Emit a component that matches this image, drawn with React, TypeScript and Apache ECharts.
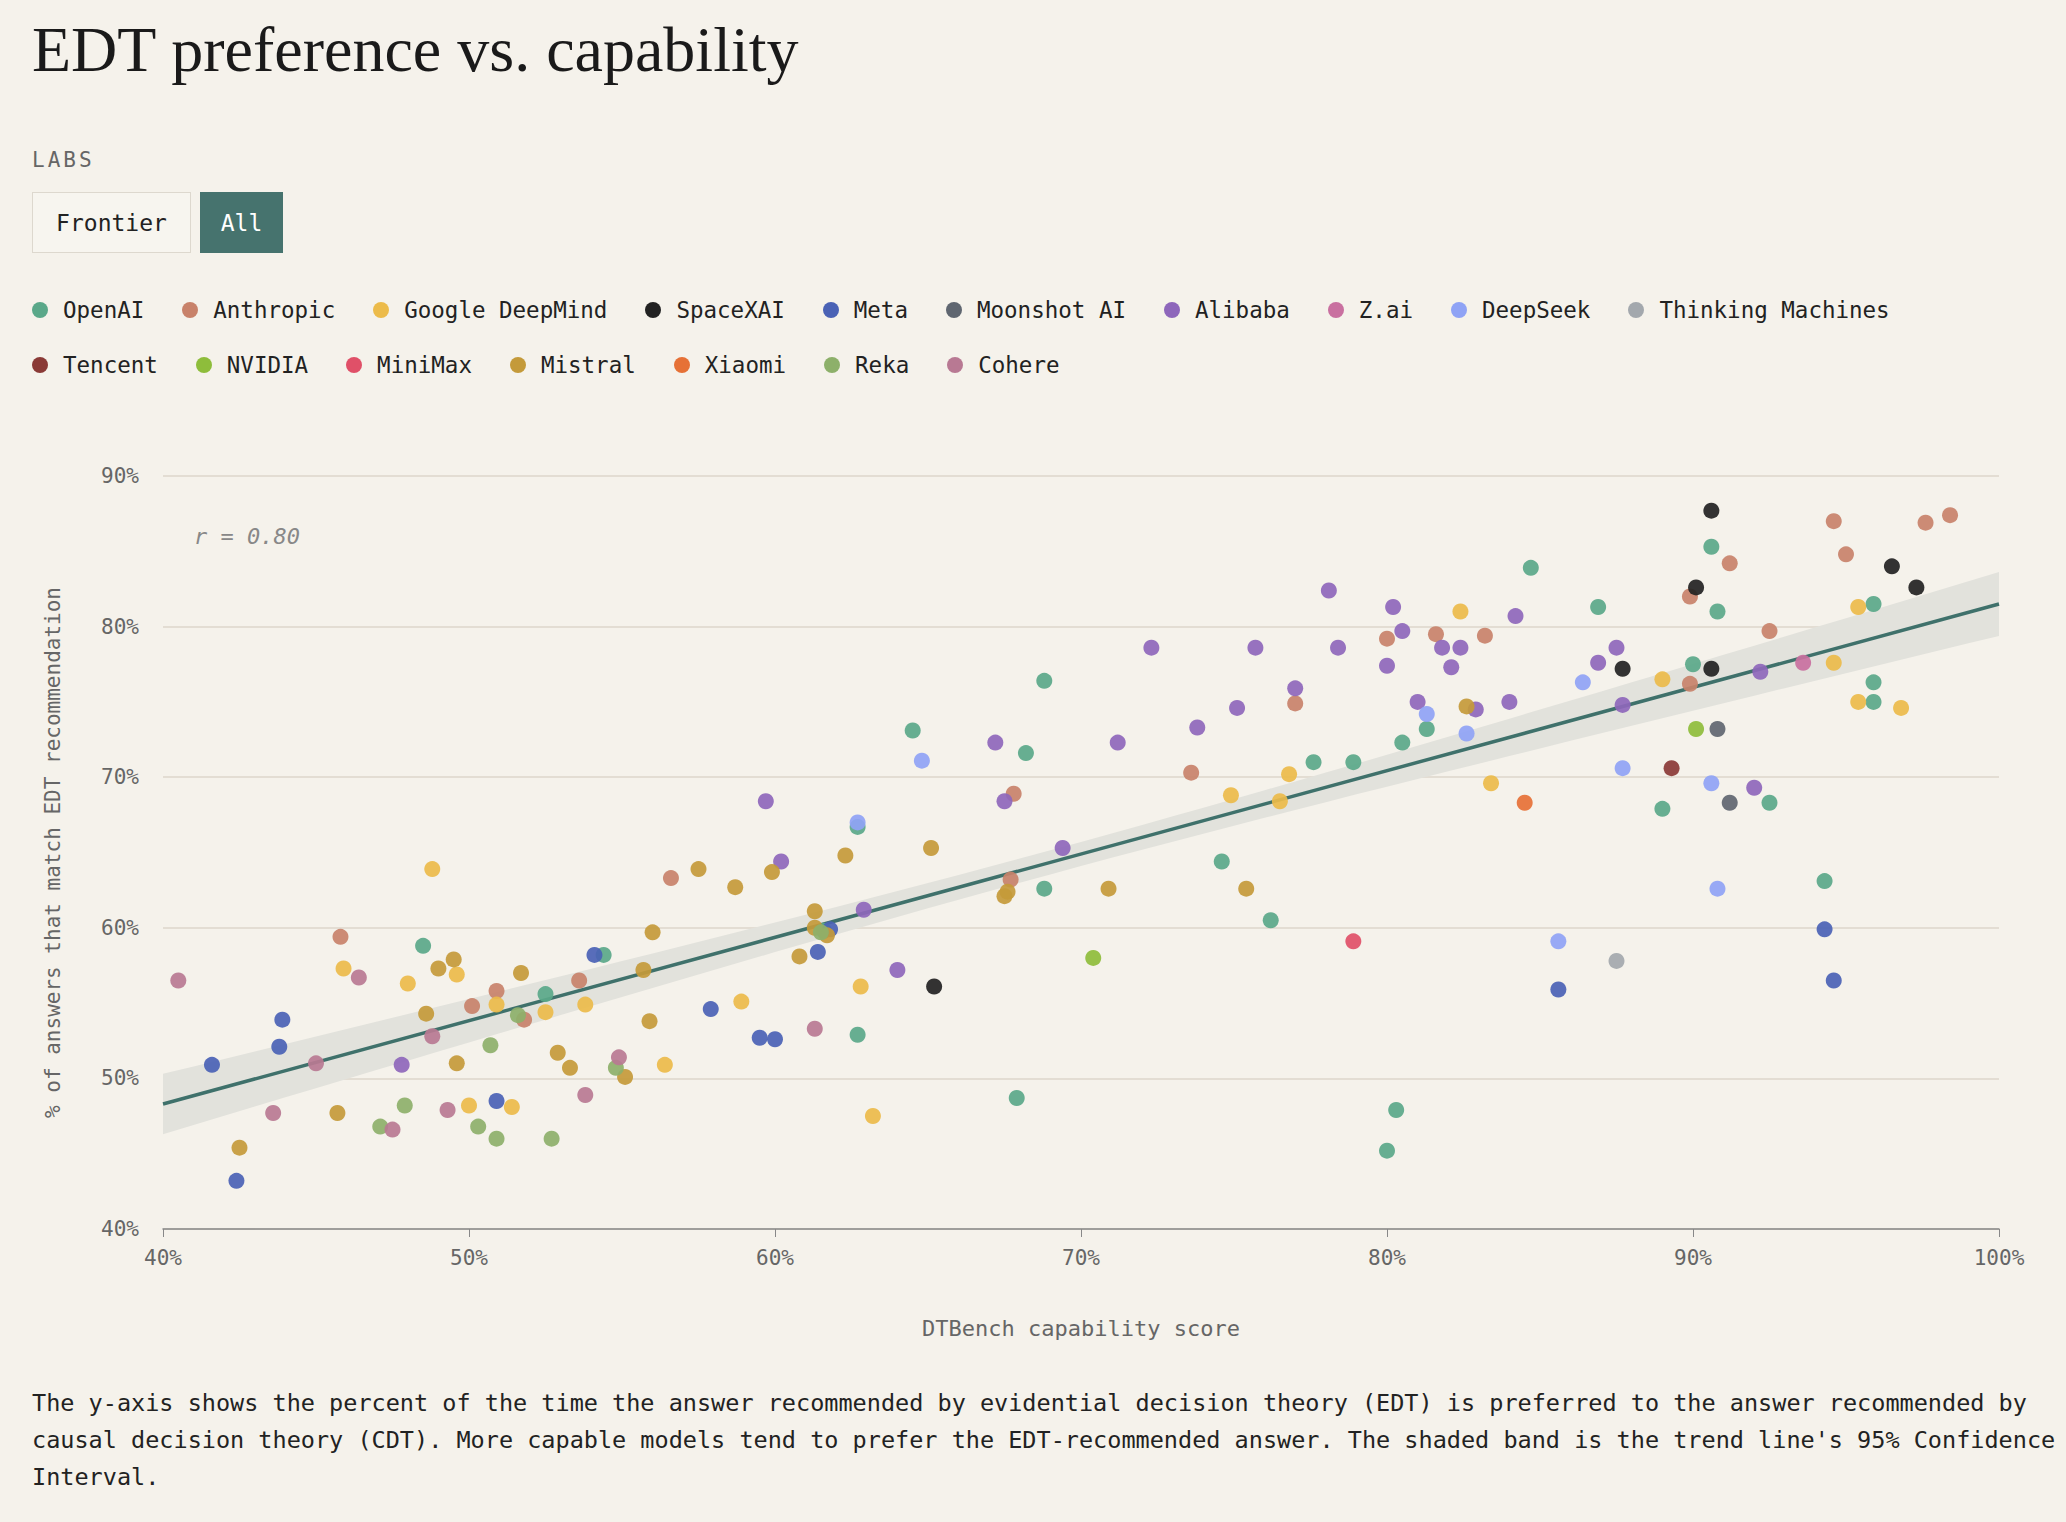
import * as echarts from 'echarts';
import { useEffect, useRef } from 'react';

// [capability %, EDT-preference %] per lab
const openai = [[48.5,58.8],[54.4,58.2],[52.5,55.6],[61.6,59.8],[62.7,66.7],[62.7,52.9],[64.5,73.1],[68.8,76.4],[68.2,71.6],[68.8,62.6],[67.9,48.7],[74.6,64.4],[76.2,60.5],[77.6,71.0],[78.9,71.0],[80.5,72.3],[81.3,73.2],[84.7,83.9],[86.9,81.3],[80.3,47.9],[80.0,45.2],[89.0,67.9],[90.0,77.5],[90.6,85.3],[90.8,81.0],[92.5,68.3],[94.3,63.1],[95.9,81.5],[95.9,76.3],[95.9,75.0]];
const anthropic = [[45.8,59.4],[50.9,55.8],[50.1,54.8],[51.8,53.9],[53.6,56.5],[56.6,63.3],[67.8,68.9],[67.7,63.2],[73.6,70.3],[77.0,74.9],[80.0,79.2],[81.6,79.5],[83.2,79.4],[89.9,82.0],[89.9,76.2],[91.2,84.2],[92.5,79.7],[94.6,87.0],[95.0,84.8],[97.6,86.9],[98.4,87.4]];
const google = [[48.8,63.9],[45.9,57.3],[48.0,56.3],[49.6,56.9],[50.9,54.9],[52.5,54.4],[53.8,54.9],[50.0,48.2],[51.4,48.1],[56.4,50.9],[58.9,55.1],[62.8,56.1],[63.2,47.5],[74.9,68.8],[76.5,68.4],[76.8,70.2],[82.4,81.0],[83.4,69.6],[89.0,76.5],[94.6,77.6],[95.4,81.3],[95.4,75.0],[96.8,74.6]];
const spacexai = [[65.2,56.1],[87.7,77.2],[90.1,82.6],[90.6,87.7],[90.6,77.2],[96.5,84.0],[97.3,82.6]];
const meta = [[41.6,50.9],[43.9,53.9],[43.8,52.1],[42.4,43.2],[50.9,48.5],[54.1,58.2],[57.9,54.6],[59.5,52.7],[60.0,52.6],[61.4,58.4],[61.8,59.9],[85.6,55.9],[94.3,59.9],[94.6,56.5]];
const moonshot = [[90.8,73.2],[91.2,68.3]];
const alibaba = [[47.8,50.9],[59.7,68.4],[60.2,64.4],[62.9,61.2],[64.0,57.2],[67.2,72.3],[67.5,68.4],[69.4,65.3],[71.2,72.3],[72.3,78.6],[73.8,73.3],[75.1,74.6],[75.7,78.6],[77.0,75.9],[78.1,82.4],[78.4,78.6],[80.0,77.4],[80.2,81.3],[80.5,79.7],[81.0,75.0],[81.8,78.6],[82.1,77.3],[82.4,78.6],[82.9,74.5],[84.0,75.0],[84.2,80.7],[86.9,77.6],[87.5,78.6],[87.7,74.8],[92.2,77.0],[92.0,69.3]];
const zai = [[93.6,77.6]];
const deepseek = [[64.8,71.1],[62.7,67.0],[81.3,74.2],[82.6,72.9],[86.4,76.3],[87.7,70.6],[90.6,69.6],[85.6,59.1],[90.8,62.6]];
const thinking = [[87.5,57.8]];
const tencent = [[89.3,70.6]];
const nvidia = [[70.4,58.0],[90.1,73.2]];
const minimax = [[78.9,59.1]];
const mistral = [[42.5,45.4],[45.7,47.7],[48.6,54.3],[49.0,57.3],[49.5,57.9],[49.6,51.0],[51.7,57.0],[52.9,51.7],[53.3,50.7],[55.1,50.1],[55.7,57.2],[55.9,53.8],[56.0,59.7],[57.5,63.9],[58.7,62.7],[59.9,63.7],[60.8,58.1],[61.3,61.1],[61.3,60.0],[61.7,59.5],[62.3,64.8],[65.1,65.3],[67.5,62.1],[67.6,62.4],[70.9,62.6],[75.4,62.6],[82.6,74.7]];
const xiaomi = [[84.5,68.3]];
const reka = [[47.1,46.8],[47.9,48.2],[50.3,46.8],[50.7,52.2],[50.9,46.0],[51.6,54.2],[52.7,46.0],[54.8,50.7],[61.5,59.7]];
const cohere = [[40.5,56.5],[43.6,47.7],[45.0,51.0],[46.4,56.7],[47.5,46.6],[48.8,52.8],[49.3,47.9],[53.8,48.9],[54.9,51.4],[61.3,53.3]];

const labs: [string, string, number[][]][] = [
  ['OpenAI', '#5aa889', openai],
  ['Anthropic', '#c8826a', anthropic],
  ['Google DeepMind', '#ecbb4a', google],
  ['SpaceXAI', '#222222', spacexai],
  ['Meta', '#4a62b5', meta],
  ['Moonshot AI', '#5f6670', moonshot],
  ['Alibaba', '#8e67bb', alibaba],
  ['Z.ai', '#c970a0', zai],
  ['DeepSeek', '#8fa3f5', deepseek],
  ['Thinking Machines', '#a3a8ad', thinking],
  ['Tencent', '#8a3a36', tencent],
  ['NVIDIA', '#8ebd3b', nvidia],
  ['MiniMax', '#e05068', minimax],
  ['Mistral', '#c49a3a', mistral],
  ['Xiaomi', '#e67136', xiaomi],
  ['Reka', '#8db06a', reka],
  ['Cohere', '#b87993', cohere],
];

// trend line endpoints and CI band shape
const trendX = [40, 100];
const trendY = [48.3, 81.5];
const ciMid = 69;
const ciMin = 0.8;
const ciSpread = 0.004;

const FONT = '"DejaVu Sans Mono", monospace';
const BG = '#f5f2eb';

export default function App() {
  const ref = useRef<HTMLDivElement>(null);

  useEffect(() => {
    document.body.style.margin = '0';
    document.body.style.background = BG;
    const chart = echarts.init(ref.current!, undefined, { renderer: 'svg' });
    const slope = (trendY[1] - trendY[0]) / (trendX[1] - trendX[0]);
    const xs: number[] = [];
    for (let x = trendX[0]; x <= trendX[1]; x += 1) xs.push(x);
    const hw = (x: number) => Math.sqrt(ciMin * ciMin + ciSpread * (x - ciMid) ** 2);
    const fit = (x: number) => trendY[0] + slope * (x - trendX[0]);
    const band = [
      ...xs.map((x) => [x, fit(x) + hw(x)]),
      ...xs.slice().reverse().map((x) => [x, fit(x) - hw(x)]),
    ];
    chart.setOption({
      animation: false,
      backgroundColor: BG,
      grid: { left: 163, right: 67, top: 56, bottom: 151 },
      xAxis: {
        type: 'value', min: 40, max: 100, interval: 10,
        name: 'DTBench capability score', nameLocation: 'middle', nameGap: 88,
        nameTextStyle: { fontFamily: FONT, fontSize: 22, color: '#666' },
        axisLabel: { formatter: '{value}%', fontFamily: FONT, fontSize: 21, color: '#666', margin: 18 },
        axisLine: { lineStyle: { color: '#888', width: 1.5 } },
        axisTick: { show: true, length: 8, lineStyle: { color: '#888' } },
        splitLine: { show: false },
      },
      yAxis: {
        type: 'value', min: 40, max: 90, interval: 10,
        name: '% of answers that match EDT recommendation', nameLocation: 'middle', nameGap: 100,
        nameTextStyle: { fontFamily: FONT, fontSize: 21, color: '#666' },
        axisLabel: { formatter: '{value}%', fontFamily: FONT, fontSize: 21, color: '#666', margin: 24 },
        axisLine: { show: false },
        axisTick: { show: false },
        splitLine: { lineStyle: { color: '#dcd6cb', width: 1.5 } },
      },
      graphic: [{
        type: 'text', left: 194, top: 105,
        style: { text: 'r = 0.80', fontFamily: FONT, fontStyle: 'italic', fontSize: 22, fill: '#888' },
      }],
      series: [
        {
          type: 'custom', silent: true, z: 1,
          data: [0],
          renderItem: (_p: unknown, api: any) => ({
            type: 'polygon',
            shape: { points: band.map((pt) => api.coord(pt)) },
            style: { fill: '#e2e2dc' },
          }),
        },
        {
          type: 'line', symbol: 'none', silent: true,
          lineStyle: { color: '#3f716b', width: 3.5 },
          data: trendX.map((x, i) => [x, trendY[i]]),
          z: 3,
        },
        ...labs.map(([name, color, data]) => ({
          type: 'scatter', name, data, symbolSize: 16, z: 4,
          itemStyle: { color, opacity: 0.92 },
        })),
      ],
    });
    return () => chart.dispose();
  }, []);

  return (
    <div style={{ width: 2066, height: 1522, background: BG, position: 'relative', fontFamily: FONT, color: '#222' }}>
      <div style={{ position: 'absolute', left: 32, top: 13, fontFamily: '"Liberation Serif", serif', fontSize: 64, color: '#1a1a1a' }}>
        EDT preference vs. capability
      </div>
      <div style={{ position: 'absolute', left: 32, top: 148, fontSize: 21, letterSpacing: 3, color: '#666' }}>LABS</div>
      <div style={{ position: 'absolute', left: 32, top: 192, display: 'flex', gap: 9 }}>
        <div style={{ width: 159, height: 61, border: '1.5px solid #ddd8ce', background: '#f7f5ef', display: 'flex', alignItems: 'center', justifyContent: 'center', fontSize: 23, boxSizing: 'border-box' }}>Frontier</div>
        <div style={{ width: 83, height: 61, background: '#46736e', color: '#fff', display: 'flex', alignItems: 'center', justifyContent: 'center', fontSize: 23 }}>All</div>
      </div>
      <div style={{ position: 'absolute', left: 32, top: 298, width: 2000, display: 'flex', flexWrap: 'wrap', rowGap: 31, fontSize: 22.5 }}>
        {labs.map(([name, color]) => (
          <div key={name} style={{ display: 'flex', alignItems: 'center', marginRight: 38, height: 24 }}>
            <span style={{ width: 16, height: 16, borderRadius: 8, background: color, marginRight: 15, display: 'inline-block' }} />
            <span>{name}</span>
          </div>
        ))}
      </div>
      <div ref={ref} style={{ position: 'absolute', left: 0, top: 420, width: 2066, height: 960 }} />
      <div style={{ position: 'absolute', left: 32, top: 1385, width: 2025, fontSize: 23.5, lineHeight: '37px', color: '#222' }}>
        The y-axis shows the percent of the time the answer recommended by evidential decision theory (EDT) is preferred to the answer recommended by causal decision theory (CDT). More capable models tend to prefer the EDT-recommended answer. The shaded band is the trend line's 95% Confidence Interval.
      </div>
    </div>
  );
}
